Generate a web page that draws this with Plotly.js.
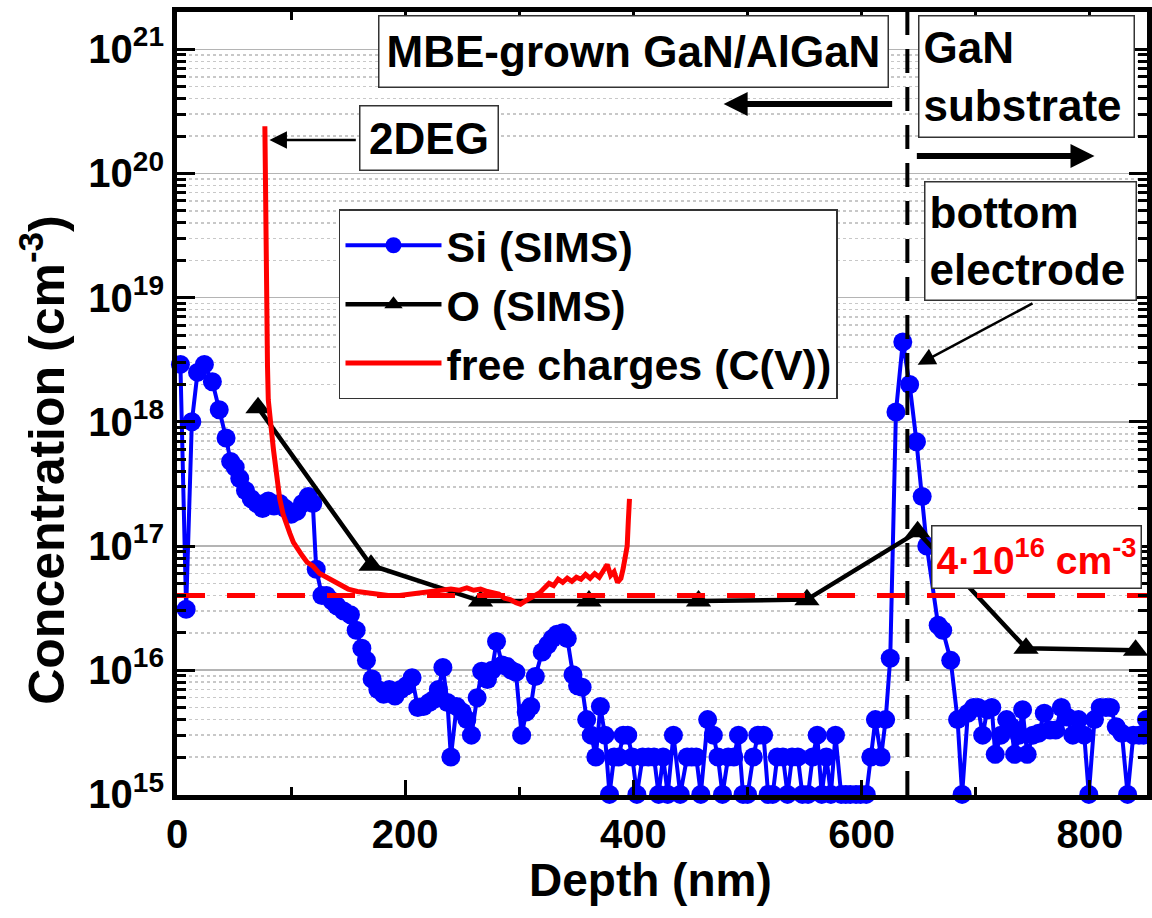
<!DOCTYPE html>
<html>
<head>
<meta charset="utf-8">
<script src="https://cdn.plot.ly/plotly-3.0.1.min.js"></script>
<style>
  html, body { margin: 0; padding: 0; background: #ffffff; }
  #chart { width: 1152px; height: 918px; }
</style>
</head>
<body>
<div id="chart"></div>
<script>
// ---------------- data ----------------
// Si (SIMS): depth (nm) and concentration (cm^-3)
const siDepth = [3, 8, 13, 18, 24, 31, 37, 43, 47, 51, 55, 60, 65, 70, 75, 80, 85, 90, 95, 100,
  105, 110, 115, 119, 122, 127, 131, 136, 140, 146, 152, 157, 162, 166, 171, 176, 181, 186, 191, 196,
  201, 206, 211, 216, 221, 225, 229, 233, 237, 240, 245, 250, 254, 258, 263, 267, 272, 276, 280, 285,
  289, 293, 297, 302, 306, 310, 314, 320, 325, 329, 333, 338, 342, 347, 351, 355, 359, 363, 367, 371,
  375, 379, 383, 387, 391, 395, 399, 403, 408, 413, 418, 422, 426, 430, 435, 441, 447, 451, 455, 459,
  465, 470, 474, 478, 483, 488, 492, 496, 500, 505, 509, 514, 518, 522, 526, 531, 535, 539, 544, 548,
  553, 557, 561, 565, 569, 573, 577, 582, 586, 590, 595, 599, 604, 608, 612, 617, 621, 625, 630, 636,
  642, 648, 653, 657, 667, 671, 678, 684, 688, 693, 698, 702, 706, 710, 714, 717, 722, 727, 731, 734,
  738, 741, 745, 750, 755, 760, 765, 770, 775, 780, 785, 790, 795, 799, 804, 809, 814, 818, 823, 828,
  833, 838, 843, 847, 849.5];
const siConc = [2.9e18, 3.1e16, 1.0e18, 2.5e18, 2.9e18, 2.1e18, 1.25e18, 7.4e17, 4.8e17, 4.3e17, 3.5e17, 2.8e17, 2.4e17, 2.2e17, 2.0e17, 2.3e17, 2.1e17, 2.2e17, 2.0e17, 1.8e17,
  1.9e17, 2.2e17, 2.5e17, 2.2e17, 6.5e16, 4.0e16, 4.0e16, 3.6e16, 3.3e16, 3.0e16, 2.8e16, 2.1e16, 1.5e16, 1.2e16, 8.5e15, 7.0e15, 6.4e15, 7.0e15, 6.2e15, 7.0e15,
  7.5e15, 8.7e15, 5.0e15, 5.1e15, 5.5e15, 5.8e15, 7.0e15, 1.05e16, 5.5e15, 2.0e15, 5.1e15, 4.6e15, 4.0e15, 3.0e15, 6.0e15, 9.8e15, 8.4e15, 1.0e16, 1.7e16, 1.1e16,
  1.07e16, 1.0e16, 9.6e15, 3.0e15, 4.6e15, 5.1e15, 8.9e15, 1.4e16, 1.6e16, 1.8e16, 1.95e16, 2.0e16, 1.8e16, 9.2e15, 7.5e15, 7.3e15, 4.0e15, 3.0e15, 2.0e15, 5.1e15,
  3.0e15, 1.0e15, 2.0e15, 2.0e15, 3.0e15, 3.0e15, 2.0e15, 1.0e15, 2.0e15, 2.0e15, 2.0e15, 1.0e15, 2.0e15, 1.0e15, 3.0e15, 1.0e15, 2.0e15, 2.0e15, 2.0e15, 1.0e15,
  4.0e15, 3.0e15, 2.0e15, 1.0e15, 2.0e15, 2.0e15, 3.0e15, 1.0e15, 1.0e15, 2.0e15, 3.0e15, 3.0e15, 1.0e15, 1.0e15, 2.0e15, 2.0e15, 1.0e15, 2.0e15, 2.0e15, 1.0e15,
  1.0e15, 2.0e15, 3.0e15, 1.0e15, 2.0e15, 1.0e15, 3.0e15, 1.0e15, 1.0e15, 1.0e15, 1.0e15, 1.0e15, 1.0e15, 2.0e15, 4.0e15, 2.0e15, 4.0e15, 1.25e16, 1.2e18, 4.4e18,
  2.0e18, 6.9e17, 2.5e17, 1.0e17, 2.3e16, 2.1e16, 1.2e16, 4.0e15, 1.0e15, 4.5e15, 5.0e15, 5.0e15, 3.0e15, 4.8e15, 5.0e15, 2.1e15, 3.0e15, 4.0e15, 3.5e15, 2.1e15,
  3.0e15, 4.8e15, 2.1e15, 3.0e15, 3.1e15, 4.5e15, 3.3e15, 3.3e15, 5.0e15, 4.2e15, 3.0e15, 4.0e15, 3.0e15, 1.0e15, 4.0e15, 5.0e15, 5.0e15, 5.0e15, 3.5e15, 3.1e15,
  1.0e15, 3.0e15, 3.0e15, 3.0e15, 4.0e15];

// O (SIMS)
const oDepth = [71, 170, 266, 361, 457, 552, 649, 744, 840];
const oConc  = [1.3e18, 7.0e16, 3.6e16, 3.6e16, 3.6e16, 3.7e16, 1.3e17, 1.5e16, 1.45e16];

// free charges (C(V))
const cvDepth = [77, 77.3, 77.6, 78, 78.4, 78.8, 79.3, 80, 81, 82, 83, 84.5, 86, 88, 90, 93, 96, 99, 102, 106,
  110, 114, 119, 125, 131, 137, 144, 150, 158, 166, 175, 185, 195, 205, 215, 225, 233, 240, 247, 254,
  260, 266, 272, 277, 282, 287, 292, 297, 301, 305, 309, 313, 318, 322, 326, 330, 334, 338, 342, 346,
  350, 354, 358, 362, 366, 370, 374, 377, 380, 383, 386, 389, 391, 393, 394.5, 395.5, 396.5];
const cvConc = [2.4e20, 1.0e20, 4.0e19, 1.8e19, 9.0e18, 5.2e18, 2.8e18, 1.5e18, 1.1e18, 9.0e17, 8.1e17, 6.0e17, 4.4e17, 3.2e17, 2.4e17, 1.8e17, 1.45e17, 1.26e17, 1.07e17, 9.3e16,
  8.3e16, 7.4e16, 6.9e16, 6.0e16, 5.6e16, 5.2e16, 4.8e16, 4.5e16, 4.3e16, 4.2e16, 4.1e16, 4.0e16, 4.0e16, 4.1e16, 4.2e16, 4.3e16, 4.4e16, 4.5e16, 4.4e16, 4.6e16,
  4.4e16, 4.5e16, 4.3e16, 4.2e16, 4.1e16, 3.8e16, 3.7e16, 3.5e16, 3.4e16, 3.6e16, 3.8e16, 4.0e16, 4.2e16, 4.6e16, 5.0e16, 4.8e16, 5.4e16, 5.1e16, 5.5e16, 5.2e16,
  5.6e16, 5.4e16, 5.9e16, 5.5e16, 6.0e16, 5.6e16, 6.3e16, 7.1e16, 5.8e16, 6.2e16, 5.1e16, 5.5e16, 6.6e16, 7.9e16, 1.0e17, 1.6e17, 2.4e17];

// reference levels
const dopingLevel = 4e16;        // red dashed line
const interfaceDepth = 640;      // black dashed line (nm)
const xRange = [0, 850];
const yRangeLog = [14.995, 21.3];

// tick labels
const xTickVals = [0, 200, 400, 600, 800];
const yTickVals = [1e15, 1e16, 1e17, 1e18, 1e19, 1e20, 1e21];
const yTickText = ['10<sup>15</sup>', '10<sup>16</sup>', '10<sup>17</sup>', '10<sup>18</sup>', '10<sup>19</sup>', '10<sup>20</sup>', '10<sup>21</sup>'];

// ---------------- styles ----------------
const FONT = 'Liberation Sans, Arial, Helvetica, sans-serif';

const traces = [
  { x: siDepth, y: siConc, name: 'Si (SIMS)', type: 'scatter', mode: 'lines+markers', cliponaxis: false,
    line: { color: '#0000ff', width: 4 }, marker: { symbol: 'circle', size: 19, color: '#0000ff' } },
  { x: oDepth, y: oConc, name: 'O (SIMS)', type: 'scatter', mode: 'lines+markers',
    line: { color: '#000000', width: 4.5 }, marker: { symbol: 'triangle-up', size: 22, color: '#000000' } },
  { x: cvDepth, y: cvConc, name: 'free charges (C(V))', type: 'scatter', mode: 'lines',
    line: { color: '#ff0000', width: 5 } },
  { x: xRange, y: [dopingLevel, dopingLevel], type: 'scatter', mode: 'lines', showlegend: false,
    line: { color: '#ff0000', width: 5, dash: '28px,22px' }, hoverinfo: 'skip' },
  { x: [interfaceDepth, interfaceDepth], y: [Math.pow(10, yRangeLog[0]), Math.pow(10, yRangeLog[1])], type: 'scatter',
    mode: 'lines', showlegend: false, line: { color: '#000000', width: 4, dash: '24px,14px' }, hoverinfo: 'skip' }
];

const boxStyle = { bgcolor: '#ffffff', bordercolor: '#333333', borderwidth: 1.5, borderpad: 4, showarrow: false,
  xref: 'x', yref: 'y' };
const txtFont = { family: FONT, size: 44, color: '#000000', weight: 'bold' };

const annotations = [
  Object.assign({}, boxStyle, { x: 400, y: 20.98, width: 500, height: 62, text: 'MBE-grown GaN/AlGaN', font: txtFont }),
  Object.assign({}, boxStyle, { x: 744, y: 20.78, width: 206, height: 112, text: 'GaN<br>substrate', align: 'left', font: txtFont }),
  Object.assign({}, boxStyle, { x: 220.6, y: 20.286, width: 129, height: 55, text: '2DEG', font: txtFont }),
  Object.assign({}, boxStyle, { x: 748, y: 19.457, width: 202, height: 109, text: 'bottom<br>electrode', align: 'left', font: txtFont }),
  Object.assign({}, boxStyle, { x: 753.5, y: 16.91, width: 200, height: 53, text: '4·10<sup>16</sup> cm<sup>-3</sup>',
    font: Object.assign({}, txtFont, { size: 39, color: '#ff0000' }) }),
  // arrows
  { xref: 'x', yref: 'y', axref: 'x', ayref: 'y', x: 479, y: 20.56, ax: 628, ay: 20.56, text: '', showarrow: true,
    arrowhead: 2, arrowsize: 0.8, arrowwidth: 6, arrowcolor: '#000000' },
  { xref: 'x', yref: 'y', axref: 'x', ayref: 'y', x: 804, y: 20.14, ax: 647, ay: 20.14, text: '', showarrow: true,
    arrowhead: 2, arrowsize: 0.8, arrowwidth: 6, arrowcolor: '#000000' },
  { xref: 'x', yref: 'y', axref: 'x', ayref: 'y', x: 81, y: 20.27, ax: 158, ay: 20.27, text: '', showarrow: true,
    arrowhead: 2, arrowsize: 1.4, arrowwidth: 2.5, arrowcolor: '#000000' },
  { xref: 'x', yref: 'y', axref: 'x', ayref: 'y', x: 649, y: 18.46, ax: 751, ay: 18.96, text: '', showarrow: true,
    arrowhead: 2, arrowsize: 1.4, arrowwidth: 2.5, arrowcolor: '#000000' },
  // axis titles (placed as in the reference)
  { xref: 'paper', yref: 'paper', x: -0.138, y: 0.427, xanchor: 'center', yanchor: 'middle', textangle: -90,
    showarrow: false, text: 'Concentration (cm<sup>-3</sup>)', font: { family: FONT, size: 50, color: '#000000', weight: 'bold' } },
  { xref: 'paper', yref: 'paper', x: 0.488, y: -0.109, xanchor: 'center', yanchor: 'middle',
    showarrow: false, text: 'Depth (nm)', font: { family: FONT, size: 46, color: '#000000', weight: 'bold' } }
];

const layout = {
  width: 1152, height: 918,
  margin: { l: 177, r: 5, t: 12, b: 123 },
  paper_bgcolor: '#ffffff', plot_bgcolor: '#ffffff',
  font: { family: FONT, color: '#000000', weight: 'bold' },
  showlegend: true,
  legend: { x: 0.167, y: 0.748, xanchor: 'left', yanchor: 'top', bgcolor: '#ffffff', bordercolor: '#333333',
    borderwidth: 1.5, font: { family: FONT, size: 43, color: '#000000', weight: 'bold' }, itemwidth: 96,
    tracegroupgap: 0 },
  xaxis: {
    range: xRange, tickvals: xTickVals, ticks: 'inside', ticklen: 15, tickwidth: 3, tickcolor: '#000',
    showline: true, linewidth: 5, linecolor: '#000', mirror: 'ticks', showgrid: false, zeroline: false,
    tickfont: { family: FONT, size: 40, weight: 'bold' },
    minor: { dtick: 100, ticks: 'inside', ticklen: 8, tickwidth: 3, tickcolor: '#000', showgrid: false }
  },
  yaxis: {
    type: 'log', range: yRangeLog, tickvals: yTickVals, ticktext: yTickText, ticks: 'inside', ticklen: 18,
    tickwidth: 3, tickcolor: '#000', showline: true, linewidth: 5, linecolor: '#000', mirror: 'ticks',
    showgrid: true, gridcolor: '#b4b4b4', gridwidth: 1.5, zeroline: false,
    tickfont: { family: FONT, size: 40, weight: 'bold' },
    minor: { dtick: 'D1', ticks: 'inside', ticklen: 9, tickwidth: 3, tickcolor: '#000', showgrid: true,
      gridcolor: '#c8c8c8', gridwidth: 1.5, griddash: 'dot' }
  },
  annotations: annotations
};

Plotly.newPlot('chart', traces, layout, { displayModeBar: false, staticPlot: true });
</script>
</body>
</html>
